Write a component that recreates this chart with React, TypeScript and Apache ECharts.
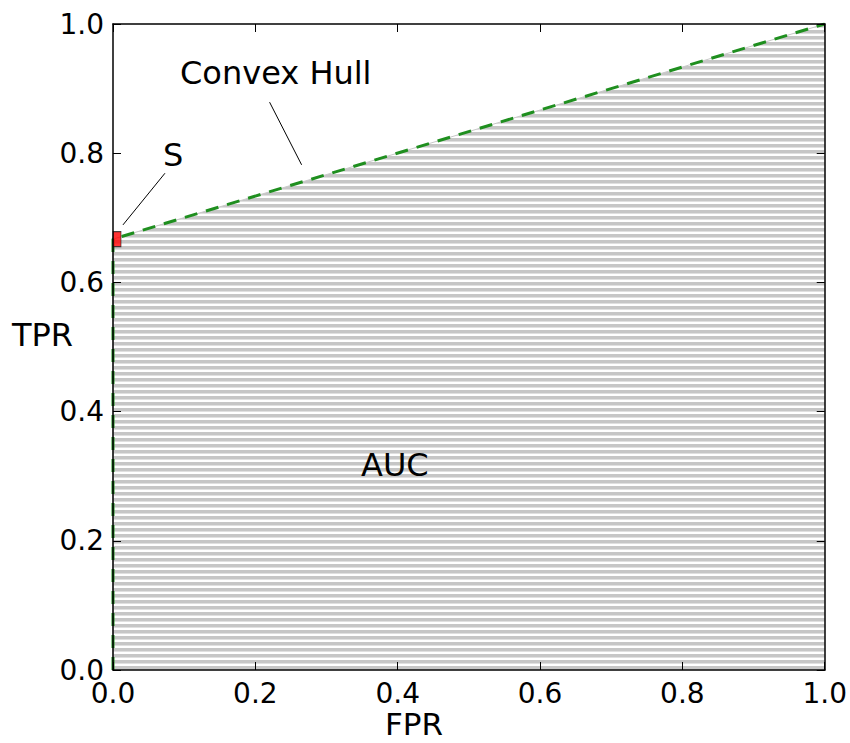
import React, { useEffect, useRef } from "react";
import * as echarts from "echarts";

// ROC convex hull points (FPR, TPR)
const fpr = [0, 0, 1];
const tpr = [0, 0.667, 1];
// classifier S
const pointS = [0, 0.667];
// tick values
const ticks = [0, 0.2, 0.4, 0.6, 0.8, 1.0];
// annotation connector segments (data coords)
const hullConnector = [[0.22, 0.879], [0.265, 0.782]];
const sConnector = [[0.073, 0.769], [0.014, 0.689]];

const FONT = "DejaVu Sans";

export default function App() {
  const ref = useRef<HTMLDivElement>(null);
  useEffect(() => {
    if (!ref.current) return;
    const chart = echarts.init(ref.current, null, { renderer: "svg" });

    const cv = document.createElement("canvas");
    cv.width = 4;
    cv.height = 6;
    const ctx = cv.getContext("2d")!;
    ctx.fillStyle = "#ffffff";
    ctx.fillRect(0, 0, 4, 6);
    ctx.fillStyle = "#c6c6c6";
    ctx.fillRect(0, 0, 4, 3);
    ctx.fillStyle = "#e0e0e0";
    ctx.fillRect(0, 3, 4, 1);

    const hull = fpr.map((x, i) => [x, tpr[i]]);

    const baseX = {
      type: "value" as const,
      min: ticks[0],
      max: ticks[ticks.length - 1],
      interval: 0.2,
      z: 10,
      splitLine: { show: false },
      axisLine: { show: true, onZero: false, lineStyle: { color: "#000", width: 1.5 } },
      axisTick: { show: true, inside: true, length: 8, lineStyle: { color: "#000", width: 1 } },
    };

    const textStyle = (text: string) => ({
      text,
      font: `32px '${FONT}'`,
      fill: "#000",
      verticalAlign: "middle",
      align: "left",
    });

    chart.setOption({
      animation: false,
      backgroundColor: "#fff",
      grid: { left: 113, top: 24, width: 713, height: 646, containLabel: false },
      xAxis: [
        {
          ...baseX,
          position: "bottom",
          axisLabel: {
            show: true,
            margin: 9,
            fontFamily: FONT,
            fontSize: 28,
            color: "#000",
            formatter: (v: number) => v.toFixed(1),
          },
        },
        { ...baseX, position: "top", axisLabel: { show: false } },
      ],
      yAxis: [
        {
          ...baseX,
          position: "left",
          axisLabel: {
            show: true,
            margin: 9,
            fontFamily: FONT,
            fontSize: 28,
            color: "#000",
            formatter: (v: number) => v.toFixed(1),
          },
        },
        { ...baseX, position: "right", axisLabel: { show: false } },
      ],
      series: [
        {
          type: "line",
          data: hull,
          symbol: "none",
          z: 1,
          lineStyle: { color: "#c8c8c8", width: 1 },
          areaStyle: { color: { image: cv, repeat: "repeat" }, opacity: 1 },
        },
        {
          type: "line",
          data: hull,
          symbol: "none",
          z: 3,
          lineStyle: { color: "#1f8f1f", width: 3, type: [13, 9] },
        },
        {
          type: "scatter",
          data: [pointS],
          symbol: "rect",
          symbolSize: [8, 15],
          symbolOffset: [4, 0],
          z: 4,
          itemStyle: { color: "#ff0000", borderColor: "#222", borderWidth: 1 },
        },
        {
          type: "line",
          data: hullConnector,
          symbol: "none",
          z: 5,
          lineStyle: { color: "#000", width: 1 },
        },
        {
          type: "line",
          data: sConnector,
          symbol: "none",
          z: 5,
          lineStyle: { color: "#000", width: 1 },
        },
      ],
      graphic: {
        elements: [
          { type: "text", z: 100, x: 180, y: 73, style: textStyle("Convex Hull") },
          { type: "text", z: 100, x: 163, y: 155, style: textStyle("S") },
          { type: "text", z: 100, x: 361, y: 465, style: textStyle("AUC") },
          { type: "text", z: 100, x: 385, y: 724, style: { ...textStyle("FPR"), font: `31px '${FONT}'` } },
          { type: "text", z: 100, x: 12, y: 335, style: textStyle("TPR") },
        ],
      },
    });
    return () => chart.dispose();
  }, []);
  return (
    <div
      ref={ref}
      style={{ position: "fixed", left: 0, top: 0, width: 850, height: 743, background: "#fff" }}
    />
  );
}
